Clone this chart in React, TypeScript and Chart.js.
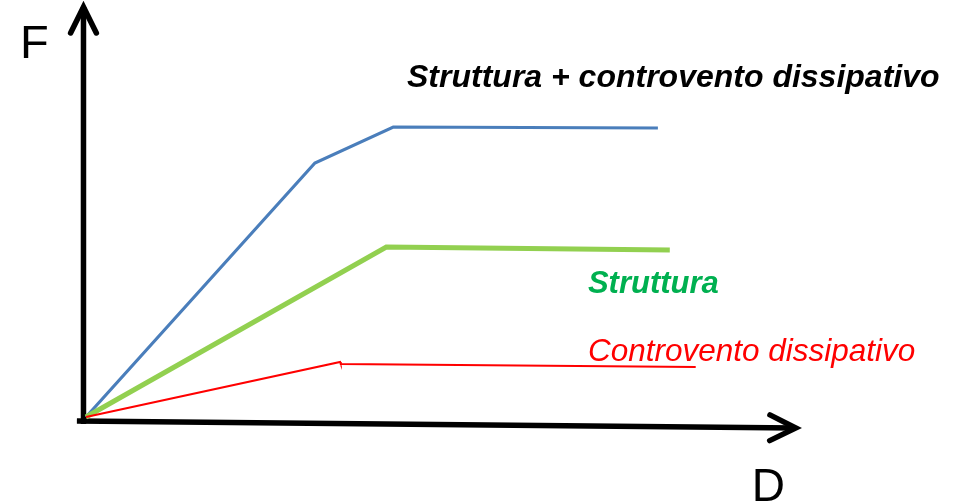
import React, { useEffect, useRef } from "react";
import { Chart, registerables } from "chart.js";

Chart.register(...registerables);

// Force–displacement curves (arbitrary units, D horizontal 0..100, F vertical 0..100)
const bracedFrameX = [0, 32.7, 43.9, 81.7];
const bracedFrameY = [0, 63.5, 72.5, 72.25];
const frameX = [0, 42.9, 83.4];
const frameY = [0, 42.5, 41.75];
const braceX = [0, 36.3, 36.4, 87.1];
const braceY = [0, 13.75, 13.25, 12.5];

// Axis arrows (data units)
const yAxisX = [-0.36, -0.36];
const yAxisY = [-1.75, 102.5];
const xAxisX = [-1.3, 101.4];
const xAxisY = [-1.0, -2.75];

// Labels
const labelTexts = [
  "Struttura + controvento dissipativo",
  "Struttura",
  "Controvento dissipativo",
  "F",
  "D",
];
const labelX = [45.86, 71.7, 71.7, -9.43, 95.1];
const labelY = [82.6, 31.0, 14.0, 89.75, -21.0];
const labelColors = ["#000000", "#00B050", "#FF0000", "#000000", "#000000"];
const labelFonts = [
  "italic bold 32px 'Liberation Sans', Arial, sans-serif",
  "italic bold 31px 'Liberation Sans', Arial, sans-serif",
  "italic 31.5px 'Liberation Sans', Arial, sans-serif",
  "47px 'Liberation Sans', Arial, sans-serif",
  "46px 'Liberation Sans', Arial, sans-serif",
];

const toPts = (xs: number[], ys: number[]) => xs.map((x, i) => ({ x, y: ys[i] }));

const decorPlugin = {
  id: "decor",
  beforeDatasetsDraw(chart: any) {
    const ctx = chart.ctx;
    const xs = chart.scales.x;
    const ys = chart.scales.y;
    const drawArrow = (ax: number[], ay: number[]) => {
      const x0 = xs.getPixelForValue(ax[0]);
      const y0 = ys.getPixelForValue(ay[0]);
      const x1 = xs.getPixelForValue(ax[1]);
      const y1 = ys.getPixelForValue(ay[1]);
      ctx.save();
      ctx.strokeStyle = "#000";
      ctx.lineWidth = 5.5;
      ctx.lineCap = "butt";
      ctx.beginPath();
      ctx.moveTo(x0, y0);
      ctx.lineTo(x1, y1);
      ctx.stroke();
      const ang = Math.atan2(y1 - y0, x1 - x0);
      const len = 29;
      const spread = 0.46;
      ctx.lineCap = "round";
      ctx.lineJoin = "miter";
      ctx.beginPath();
      ctx.moveTo(x1 - len * Math.cos(ang - spread), y1 - len * Math.sin(ang - spread));
      ctx.lineTo(x1, y1);
      ctx.lineTo(x1 - len * Math.cos(ang + spread), y1 - len * Math.sin(ang + spread));
      ctx.stroke();
      ctx.restore();
    };
    drawArrow(yAxisX, yAxisY);
    drawArrow(xAxisX, xAxisY);
  },
  afterDraw(chart: any) {
    const ctx = chart.ctx;
    const xs = chart.scales.x;
    const ys = chart.scales.y;
    ctx.save();
    ctx.textAlign = "left";
    ctx.textBaseline = "alphabetic";
    labelTexts.forEach((t, i) => {
      ctx.font = labelFonts[i];
      ctx.fillStyle = labelColors[i];
      ctx.fillText(t, xs.getPixelForValue(labelX[i]), ys.getPixelForValue(labelY[i]));
    });
    ctx.restore();
  },
};

export default function App() {
  const ref = useRef<HTMLCanvasElement | null>(null);
  useEffect(() => {
    if (!ref.current) return;
    const chart = new Chart(ref.current, {
      type: "line",
      data: {
        datasets: [
          {
            label: "Controvento dissipativo",
            data: toPts(braceX, braceY),
            borderColor: "#FF0000",
            borderWidth: 2,
            pointRadius: 0,
            tension: 0,
            clip: false as any,
          },
          {
            label: "Struttura",
            data: toPts(frameX, frameY),
            borderColor: "#92D050",
            borderWidth: 5,
            pointRadius: 0,
            tension: 0,
            clip: false as any,
          },
          {
            label: "Struttura + controvento dissipativo",
            data: toPts(bracedFrameX, bracedFrameY),
            borderColor: "#4A7EBB",
            borderWidth: 3.2,
            pointRadius: 0,
            tension: 0,
            clip: false as any,
          },
        ],
      },
      options: {
        responsive: false,
        animation: false,
        devicePixelRatio: 1,
        layout: { padding: { left: 86, right: 168, top: 17, bottom: 85 } },
        plugins: { legend: { display: false }, tooltip: { enabled: false } },
        scales: {
          x: { type: "linear", min: 0, max: 100, display: false },
          y: { type: "linear", min: 0, max: 100, display: false },
        },
      },
      plugins: [decorPlugin],
    });
    return () => chart.destroy();
  }, []);
  return (
    <div style={{ position: "absolute", left: 0, top: 0, width: 954, height: 502, background: "#fff" }}>
      <canvas ref={ref} width={954} height={502} style={{ display: "block" }} />
    </div>
  );
}
